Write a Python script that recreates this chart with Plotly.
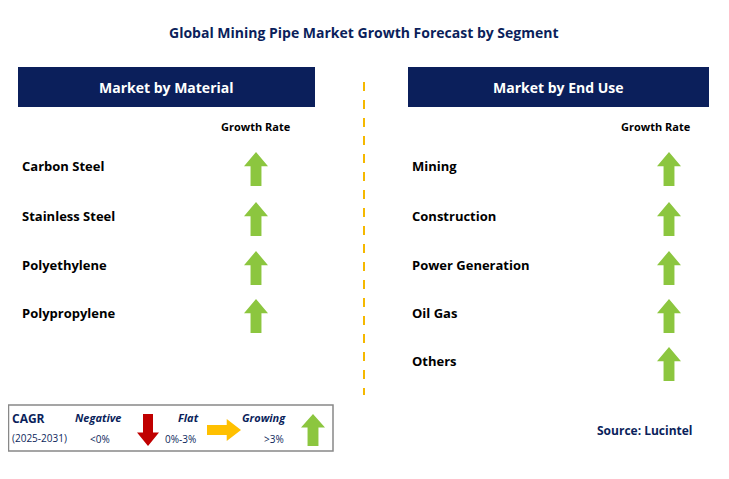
import plotly.graph_objects as go

title = "Global Mining Pipe Market Growth Forecast by Segment"
panels = ["Market by Material", "Market by End Use"]
material = ["Carbon Steel", "Stainless Steel", "Polyethylene", "Polypropylene"]
end_use = ["Mining", "Construction", "Power Generation", "Oil Gas", "Others"]
material_rows = [166, 216, 265, 313]
end_use_rows = [166, 216, 265, 313, 361]

NAVY = "#0B1F5B"
GREEN = "#8CC63F"
FONT = "Open Sans"


def arrow(cx, cy, direction, w=24, h=34, color=GREEN):
    # arrow polygon around a centre, pointing up / down / right
    hw, sw, hh = w / 2, w / 4.4, h * 0.42
    if direction == "up":
        pts = [(cx, cy - h/2), (cx + hw, cy - h/2 + hh), (cx + sw, cy - h/2 + hh),
               (cx + sw, cy + h/2), (cx - sw, cy + h/2), (cx - sw, cy - h/2 + hh),
               (cx - hw, cy - h/2 + hh)]
    elif direction == "down":
        pts = [(cx, cy + h/2), (cx + hw, cy + h/2 - hh), (cx + sw, cy + h/2 - hh),
               (cx + sw, cy - h/2), (cx - sw, cy - h/2), (cx - sw, cy + h/2 - hh),
               (cx - hw, cy + h/2 - hh)]
    else:
        pts = [(cx + h/2, cy), (cx + h/2 - hh, cy - hw), (cx + h/2 - hh, cy - sw),
               (cx - h/2, cy - sw), (cx - h/2, cy + sw), (cx + h/2 - hh, cy + sw),
               (cx + h/2 - hh, cy + hw)]
    path = "M " + " L ".join(f"{x},{y}" for x, y in pts) + " Z"
    return dict(type="path", path=path, xref="x", yref="y", fillcolor=color,
                line=dict(width=0), layer="above")


shapes, ann = [], []


def text(x, y, s, size=13, color="black", bold=True, italic=False, anchor="left"):
    if italic:
        s = f"<i>{s}</i>"
    if bold:
        s = f"<b>{s}</b>"
    ann.append(dict(x=x, y=y, xref="x", yref="y", text=s, showarrow=False,
                    xanchor=anchor, yanchor="middle",
                    font=dict(family=FONT, size=size, color=color)))


text(364, 32, title, size=14, color=NAVY, anchor="center")

for x0, x1, lab in [(18, 315, panels[0]), (408, 709, panels[1])]:
    shapes.append(dict(type="rect", x0=x0, x1=x1, y0=67, y1=107, xref="x", yref="y",
                       fillcolor=NAVY, line=dict(width=0)))
    text((x0 + x1) / 2, 87, lab, size=14, color="white", anchor="center")

text(256, 126, "Growth Rate", size=11, anchor="center")
text(656, 126, "Growth Rate", size=11, anchor="center")

for lab, y in zip(material, material_rows):
    text(20, y, lab, size=13)
    shapes.append(arrow(256, y + 3, "up"))
for lab, y in zip(end_use, end_use_rows):
    text(410, y, lab, size=13)
    shapes.append(arrow(669, y + 3, "up"))

shapes.append(dict(type="line", x0=364, x1=364, y0=82, y1=395, xref="x", yref="y",
                   line=dict(color="#F5B800", width=2, dash="dash")))

# legend box
shapes.append(dict(type="rect", x0=8.5, x1=333, y0=405, y1=451, xref="x", yref="y",
                   fillcolor="white", line=dict(color="#888888", width=1.5)))
text(10, 418, "CAGR", size=12, color=NAVY)
text(10, 438, "(2025-2031)", size=10, color=NAVY, bold=False)
text(73, 417, "Negative", size=11, color=NAVY, italic=True)
text(88, 439, "&lt;0%", size=10, color=NAVY, bold=False)
shapes.append(arrow(148, 430, "down", w=22, h=32, color="#C00000"))
text(176, 417, "Flat", size=11, color=NAVY, italic=True)
text(163, 439, "0%-3%", size=10, color=NAVY, bold=False)
shapes.append(arrow(224, 430, "right", w=22, h=34, color="#FFC000"))
text(240, 417, "Growing", size=11, color=NAVY, italic=True)
text(262, 439, "&gt;3%", size=10, color=NAVY, bold=False)
shapes.append(arrow(313, 430, "up", w=24, h=32))

text(645, 430, "Source: Lucintel", size=12, color=NAVY, anchor="center")

fig = go.Figure()
# ranges shifted by the page's 8px body margin
fig.update_layout(width=729, height=479, margin=dict(l=0, r=0, t=0, b=0),
                  plot_bgcolor="white", paper_bgcolor="white",
                  xaxis=dict(range=[8, 737], visible=False, fixedrange=True),
                  yaxis=dict(range=[487, 8], visible=False, fixedrange=True),
                  shapes=shapes, annotations=ann, showlegend=False)
fig.write_html("out.html")
